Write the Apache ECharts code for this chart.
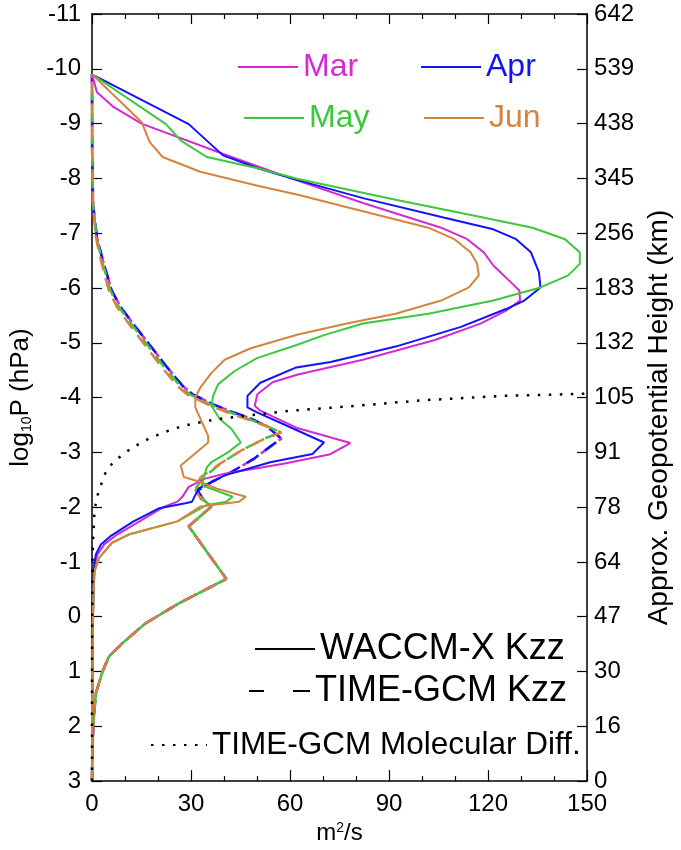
<!DOCTYPE html>
<html>
<head>
<meta charset="utf-8">
<title>Kzz profiles</title>
<script src="https://cdn.jsdelivr.net/npm/echarts@6/dist/echarts.min.js"></script>
<style>
  html, body { margin: 0; padding: 0; background: #fff; }
  #chart { width: 681px; height: 850px; }
</style>
</head>
<body>
<div id="chart"></div>
<script>
// Pressure levels (log10 hPa) on the left axis and the matching approximate heights (km) on the right.
const logPTicks = [-11, -10, -9, -8, -7, -6, -5, -4, -3, -2, -1, 0, 1, 2, 3];
const heightLabels = ['642', '539', '438', '345', '256', '183', '132', '105', '91', '78', '64', '47', '30', '16', '0'];
const months = ['Mar', 'Apr', 'May', 'Jun'];

// WACCM-X Kzz profiles: [Kzz (m^2/s), log10P (hPa)]
const marWaccm = [[0,-9.9],[1.5,-9.57],[6.6,-9.3],[15,-9.0],[39.6,-8.45],[60.4,-8.0],[82.1,-7.55],[105.8,-7.1],[113.7,-6.89],[118.7,-6.65],[121.6,-6.41],[127.5,-6.07],[129.5,-5.95],[129.7,-5.77],[125.6,-5.59],[117.7,-5.35],[103.9,-5.05],[82.1,-4.69],[62.4,-4.42],[54.7,-4.28],[50.1,-4.06],[49.3,-3.85],[51,-3.76],[61.9,-3.45],[78.3,-3.17],[71.9,-2.96],[58,-2.79],[40.2,-2.61],[34.3,-2.52],[29.3,-2.37],[27.4,-2.19],[25.9,-2.10],[21.9,-2.01],[13.5,-1.71],[7.6,-1.50],[3.7,-1.32],[1.7,-1.14],[0.8,-0.96],[0.5,-0.6],[0.3,0],[0.15,1],[0.05,2],[0,3]];
const aprWaccm = [[0,-9.9],[29.3,-8.99],[39.7,-8.42],[50.5,-8.18],[60.4,-8.0],[82.1,-7.64],[106.8,-7.28],[121.6,-7.07],[128.5,-6.89],[133,-6.65],[135.4,-6.29],[135.9,-6.01],[131,-5.77],[125.6,-5.62],[111.8,-5.29],[92,-4.93],[72.3,-4.65],[61.9,-4.55],[51,-4.27],[47.1,-4.03],[47.1,-3.82],[50,-3.73],[58.9,-3.49],[70.3,-3.18],[66.8,-2.97],[54,-2.82],[40.2,-2.58],[35.2,-2.43],[32.3,-2.34],[31.3,-2.22],[30.3,-2.10],[28.3,-2.07],[20.4,-1.98],[12.6,-1.74],[5.6,-1.47],[2.7,-1.32],[1.2,-1.14],[0.7,-0.96],[0.5,-0.6],[0.3,0],[0.15,1],[0.05,2],[0,3]];
const mayWaccm = [[0,-9.9],[22.4,-8.99],[26.9,-8.69],[34.8,-8.39],[50.5,-8.18],[62.4,-7.99],[92,-7.61],[116.7,-7.31],[133.5,-7.10],[143.3,-6.89],[147.8,-6.65],[147.8,-6.44],[144.3,-6.23],[135.9,-6.01],[121.6,-5.77],[101.9,-5.53],[82.1,-5.35],[70.3,-5.14],[62,-4.96],[50,-4.72],[43.1,-4.48],[38.2,-4.24],[36.7,-4.03],[36.2,-3.85],[38.7,-3.61],[42.2,-3.43],[45.1,-3.18],[41.2,-3.0],[36.2,-2.82],[34.8,-2.73],[33.8,-2.52],[33.3,-2.40],[42.6,-2.19],[40.7,-2.10],[34.8,-2.04],[25.9,-1.74],[11.1,-1.50],[6.1,-1.35],[2.2,-1.08],[0.8,-0.84],[0.5,-0.5],[0.3,0],[0.15,1],[0.05,2],[0,3]];
const junWaccm = [[0,-9.9],[15,-9.03],[17.5,-8.66],[21.4,-8.39],[32.8,-8.12],[50.5,-7.86],[62.4,-7.70],[82.1,-7.40],[101.9,-7.10],[109.8,-6.89],[114.7,-6.65],[116.7,-6.44],[117.2,-6.23],[114.2,-6.01],[105.8,-5.77],[92,-5.53],[77.2,-5.35],[62.4,-5.15],[48.1,-4.90],[40.2,-4.69],[36.2,-4.45],[32.8,-4.18],[31.3,-4.0],[31.3,-3.82],[33.3,-3.55],[35.2,-3.30],[35.2,-3.18],[26.9,-2.76],[27.8,-2.55],[32.8,-2.46],[37.7,-2.34],[46.6,-2.19],[44.6,-2.10],[32.8,-2.01],[25.9,-1.74],[11.1,-1.50],[6.1,-1.35],[2.2,-1.08],[0.8,-0.84],[0.5,-0.5],[0.3,0],[0.15,1],[0.05,2],[0,3]];

// TIME-GCM Kzz profiles
const marTime = [[0,-9.9],[0.05,-8.5],[0.35,-7.5],[1.5,-6.92],[3.3,-6.5],[6.0,-5.95],[8.7,-5.65],[12.4,-5.35],[17.5,-4.96],[22.5,-4.57],[27.5,-4.21],[30.5,-4.06],[33.5,-3.97],[36.5,-3.88],[41.5,-3.76],[48,-3.62],[53,-3.47],[57.4,-3.25],[55,-3.15],[49,-2.88],[42.2,-2.64],[36,-2.45],[32,-2.3],[34,-2.12],[36.2,-2.01],[29.3,-1.65],[40.7,-0.69],[25.9,-0.23],[16,0.13],[9.1,0.49],[5.1,0.73],[3.2,1.0],[1.2,1.39],[0.5,1.86],[0.1,2.4],[0,3]];
const aprTime = [[0,-9.9],[0.05,-8.5],[0.35,-7.5],[1.5,-6.92],[3.3,-6.5],[6.0,-5.95],[8.7,-5.65],[12.4,-5.35],[17.5,-4.96],[22.5,-4.57],[27.5,-4.21],[30.5,-4.06],[33.5,-3.97],[36.5,-3.88],[41.5,-3.76],[48,-3.62],[53,-3.47],[57.4,-3.25],[55,-3.15],[49,-2.88],[42.2,-2.64],[36,-2.45],[32,-2.3],[34,-2.12],[36.2,-2.01],[29.3,-1.65],[40.7,-0.69],[25.9,-0.23],[16,0.13],[9.1,0.49],[5.1,0.73],[3.2,1.0],[1.2,1.39],[0.5,1.86],[0.1,2.4],[0,3]];
const mayTime = [[0,-9.9],[0.05,-8.5],[0.32,-7.5],[1.4,-6.92],[3.0,-6.5],[5.6,-5.95],[8.2,-5.65],[11.8,-5.35],[16.8,-4.96],[21.7,-4.57],[26.7,-4.21],[29.6,-4.06],[32.6,-3.97],[35.6,-3.88],[40.5,-3.76],[47.3,-3.61],[53,-3.48],[57.4,-3.36],[53,-3.27],[45.1,-3.03],[39,-2.8],[34,-2.55],[31.5,-2.35],[33.5,-2.15],[36.2,-2.01],[29.3,-1.65],[40.7,-0.69],[25.9,-0.23],[16,0.13],[9.1,0.49],[5.1,0.73],[3.2,1.0],[1.2,1.39],[0.5,1.86],[0.1,2.4],[0,3]];
const junTime = [[0,-9.9],[0.05,-8.5],[0.3,-7.5],[1.2,-6.92],[2.7,-6.5],[5.1,-5.95],[7.6,-5.65],[11.1,-5.35],[16,-4.96],[20.9,-4.57],[25.9,-4.21],[28.8,-4.06],[31.8,-3.97],[34.8,-3.88],[39.7,-3.76],[46.6,-3.61],[52.5,-3.49],[57.4,-3.36],[53,-3.27],[45.1,-3.03],[39,-2.8],[33,-2.55],[31,-2.35],[33,-2.15],[36.2,-2.01],[29.3,-1.65],[40.7,-0.69],[25.9,-0.23],[16,0.13],[9.1,0.49],[5.1,0.73],[3.2,1.0],[1.2,1.39],[0.5,1.86],[0.1,2.4],[0,3]];

// TIME-GCM molecular diffusion
const molecularDiff = [[0,3],[0,1],[0.05,0],[0.1,-0.5],[0.2,-1.14],[0.4,-1.5],[0.7,-1.86],[1.2,-2.1],[1.7,-2.22],[2.7,-2.40],[3.7,-2.58],[5.1,-2.73],[7.6,-2.88],[12.1,-3.08],[17.5,-3.26],[24.6,-3.43],[30.3,-3.52],[38.2,-3.61],[48.1,-3.68],[60.4,-3.76],[80.2,-3.85],[100,-3.95],[124.6,-4.03],[150,-4.07]];

const monthColors = { Mar: '#d42ad4', Apr: '#1212ff', May: '#3cc83c', Jun: '#d6843c' };
const FONT = 'Liberation Sans, Arial, Helvetica, sans-serif';

const waccm = { Mar: marWaccm, Apr: aprWaccm, May: mayWaccm, Jun: junWaccm };
const timeGcm = { Mar: marTime, Apr: aprTime, May: mayTime, Jun: junTime };

const series = [];
months.forEach(m => {
  series.push({
    name: m, type: 'line', data: waccm[m], symbol: 'none', smooth: false,
    color: monthColors[m], lineStyle: { width: 2, color: monthColors[m] }, z: 3
  });
});
months.forEach((m, i) => {
  series.push({
    name: m + ' TIME-GCM', type: 'line', data: timeGcm[m], symbol: 'none',
    color: monthColors[m],
    lineStyle: { width: 2.5, color: monthColors[m], type: [14, 8], dashOffset: i * 5 }, z: 2
  });
});
series.push({
  name: 'TIME-GCM Molecular Diff.', type: 'line', data: molecularDiff, symbol: 'none',
  color: '#000', lineStyle: { width: 2.5, color: '#000', type: [2.5, 8.5] }, z: 4
});
series.push({ name: 'WACCM-X Kzz', type: 'line', data: [], symbol: 'none', color: '#000',
  lineStyle: { width: 2.5, color: '#000' } });
series.push({ name: 'TIME-GCM Kzz', type: 'line', data: [], symbol: 'none', color: '#000',
  lineStyle: { width: 2.5, color: '#000', type: [15, 29, 17, 10] } });

function legendItem(name, left, top, width, size, color) {
  return {
    data: [{ name: name, textStyle: { color: color } }],
    left: left, top: top, itemWidth: width, itemHeight: 14, itemGap: 0, padding: 0,
    selectedMode: false, itemStyle: { opacity: 0 },
    textStyle: { fontSize: size, fontFamily: FONT, color: color }
  };
}

const tickStyle = { color: '#000', width: 1.2 };
const axisLineStyle = { color: '#000', width: 1.5 };
const TICK_FONT = 24;

const option = {
  animation: false,
  backgroundColor: '#fff',
  grid: { left: 89, right: 85, top: 14, bottom: 61, containLabel: false },
  legend: [
    legendItem('Mar', 237, 51, 60, 32, monthColors.Mar),
    legendItem('Apr', 420, 51, 60, 32, monthColors.Apr),
    legendItem('May', 243, 102, 60, 32, monthColors.May),
    legendItem('Jun', 423, 102, 60, 32, monthColors.Jun),
    legendItem('WACCM-X Kzz', 254, 631, 60, 36, '#000'),
    legendItem('TIME-GCM Kzz', 248, 673, 61, 36, '#000'),
    legendItem('TIME-GCM Molecular Diff.', 150, 729, 56, 31.5, '#000')
  ],
  xAxis: [
    {
      type: 'value', position: 'bottom', min: 0, max: 150, interval: 30,
      axisLine: { show: true, onZero: false, lineStyle: axisLineStyle },
      axisTick: { show: true, inside: true, length: 11, lineStyle: tickStyle },
      minorTick: { show: true, splitNumber: 3, length: 5, lineStyle: tickStyle },
      splitLine: { show: false },
      axisLabel: { fontSize: TICK_FONT, color: '#000', fontFamily: FONT, margin: 11 },
      name: 'm{sup|2}/s', nameLocation: 'middle', nameGap: 39,
      nameTextStyle: { fontSize: 24, color: '#000', fontFamily: FONT,
        rich: { sup: { fontSize: 14, verticalAlign: 'top', fontFamily: FONT, color: '#000', padding: [0, 0, 8, 0] } } }
    },
    {
      type: 'value', position: 'top', min: 0, max: 150, interval: 30,
      axisLine: { show: true, onZero: false, lineStyle: axisLineStyle },
      axisTick: { show: true, inside: true, length: 10, lineStyle: tickStyle },
      minorTick: { show: true, splitNumber: 3, length: 5, lineStyle: tickStyle },
      splitLine: { show: false },
      axisLabel: { show: false }
    }
  ],
  yAxis: [
    {
      type: 'value', position: 'left', min: -11, max: 3, interval: 1, inverse: true,
      axisLine: { show: true, onZero: false, lineStyle: axisLineStyle },
      axisTick: { show: true, inside: true, length: 10, lineStyle: tickStyle },
      splitLine: { show: false },
      axisLabel: { fontSize: TICK_FONT, color: '#000', fontFamily: FONT, margin: 11 },
      name: 'log{sub|10}P (hPa)', nameLocation: 'middle', nameRotate: 90, nameGap: 58,
      nameTextStyle: { fontSize: 26, color: '#000', fontFamily: FONT,
        rich: { sub: { fontSize: 14, verticalAlign: 'bottom', fontFamily: FONT, color: '#000', padding: [10, 0, 0, 0] } } }
    },
    {
      type: 'value', position: 'right', min: -11, max: 3, interval: 1, inverse: true,
      axisLine: { show: true, onZero: false, lineStyle: axisLineStyle },
      axisTick: { show: true, inside: true, length: 10, lineStyle: tickStyle },
      splitLine: { show: false },
      axisLabel: { fontSize: TICK_FONT, color: '#000', fontFamily: FONT, margin: 7,
        formatter: v => heightLabels[logPTicks.indexOf(Math.round(v))] },
      name: 'Approx. Geopotential Height (km)', nameLocation: 'middle', nameRotate: 90, nameGap: 52,
      nameTextStyle: { fontSize: 28, color: '#000', fontFamily: FONT, padding: [0, 40, 0, 0] }
    }
  ],
  series: series
};

const chart = echarts.init(document.getElementById('chart'), null, { renderer: 'canvas' });
chart.setOption(option);
</script>
</body>
</html>
